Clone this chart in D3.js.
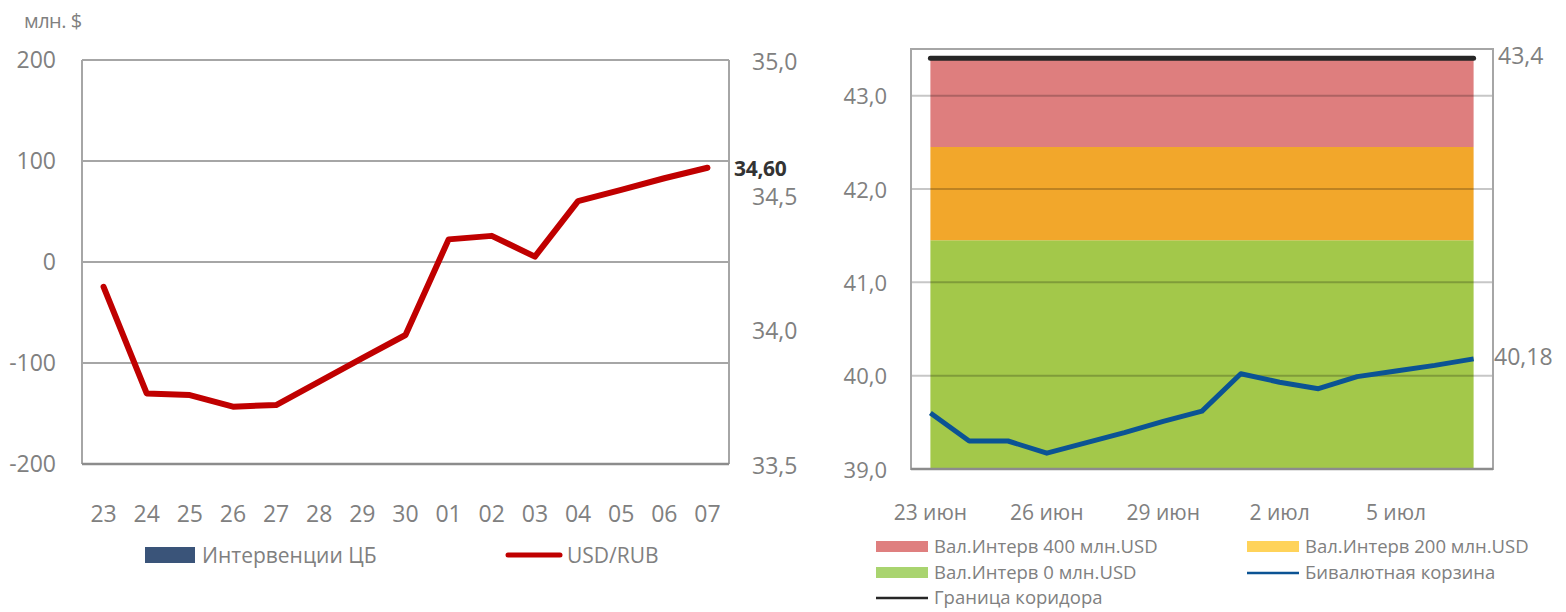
<!DOCTYPE html>
<html>
<head>
<meta charset="utf-8">
<script src="https://cdn.jsdelivr.net/npm/d3@7"></script>
<style>
  html, body { margin: 0; padding: 0; background: #fff; }
  svg { display: block; }
</style>
</head>
<body>
<svg id="chart" width="1566" height="612"></svg>
<script>
// Font close to the Calibri look of the original
const fontFamily = "'Open Sans', 'DejaVu Sans', sans-serif";
const grey = "#808080";

// ---- Left chart data ----
const days = ["23", "24", "25", "26", "27", "28", "29", "30", "01", "02", "03", "04", "05", "06", "07"];
const interventions = [0, 0, 0, 0, 0, 0, 0, 0, 0, 0, 0, 0, 0, 0, 0];
const usdRub = [34.158, 33.762, 33.756, 33.713, 33.719, 33.806, 33.893, 33.979, 34.334, 34.347, 34.270, 34.476, 34.518, 34.561, 34.60];
const leftTicks = [-200, -100, 0, 100, 200];
const rightTicks = [33.5, 34.0, 34.5, 35.0];

// ---- Right chart data ----
const basketDates = ["2014-06-23", "2014-06-24", "2014-06-25", "2014-06-26", "2014-06-27", "2014-06-28", "2014-06-29",
  "2014-06-30", "2014-07-01", "2014-07-02", "2014-07-03", "2014-07-04", "2014-07-05", "2014-07-06", "2014-07-07"];
const basket = [39.60, 39.30, 39.30, 39.17, 39.28, 39.39, 39.51, 39.62, 40.02, 39.93, 39.86, 39.99, 40.05, 40.11, 40.18];
const band0 = [41.45, 41.45, 41.45, 41.45, 41.45, 41.45, 41.45, 41.45, 41.45, 41.45, 41.45, 41.45, 41.45, 41.45, 41.45];
const band200 = [42.45, 42.45, 42.45, 42.45, 42.45, 42.45, 42.45, 42.45, 42.45, 42.45, 42.45, 42.45, 42.45, 42.45, 42.45];
const band400 = [43.4, 43.4, 43.4, 43.4, 43.4, 43.4, 43.4, 43.4, 43.4, 43.4, 43.4, 43.4, 43.4, 43.4, 43.4];
const corridor = [43.4, 43.4, 43.4, 43.4, 43.4, 43.4, 43.4, 43.4, 43.4, 43.4, 43.4, 43.4, 43.4, 43.4, 43.4];
const basketTicks = [39, 40, 41, 42, 43];
const dateTicks = ["2014-06-23", "2014-06-26", "2014-06-29", "2014-07-02", "2014-07-05"];
const dateTickLabels = ["23 июн", "26 июн", "29 июн", "2 июл", "5 июл"];

const svg = d3.select("#chart");
const comma = d => d3.format(".1f")(d).replace(".", ",");

// =================== LEFT CHART ===================
const L = { left: 82, right: 729, top: 60, bottom: 464 };
const xL = d3.scaleBand().domain(days).range([L.left, L.right]);
const yL = d3.scaleLinear().domain([-200, 200]).range([L.bottom, L.top]);
const yR = d3.scaleLinear().domain([33.5, 35.0]).range([L.bottom, L.top]);

const gL = svg.append("g");

// gridlines
gL.selectAll("line.grid")
  .data(leftTicks)
  .enter()
  .append("line")
  .attr("x1", L.left).attr("x2", L.right)
  .attr("y1", d => yL(d)).attr("y2", d => yL(d))
  .attr("stroke", "#a6a6a6")
  .attr("stroke-width", 2);

// frame sides
gL.append("line")
  .attr("x1", L.left).attr("x2", L.left).attr("y1", L.top).attr("y2", L.bottom)
  .attr("stroke", "#a6a6a6").attr("stroke-width", 2);
gL.append("line")
  .attr("x1", L.right).attr("x2", L.right).attr("y1", L.top).attr("y2", L.bottom)
  .attr("stroke", "#a6a6a6").attr("stroke-width", 2);
gL.append("line")
  .attr("x1", L.left).attr("x2", L.right).attr("y1", L.bottom).attr("y2", L.bottom)
  .attr("stroke", "#8c8c8c").attr("stroke-width", 2.5);

// bars (interventions, all zero here)
gL.selectAll("rect.bar")
  .data(interventions)
  .enter()
  .append("rect")
  .attr("class", "bar")
  .attr("x", (d, i) => xL(days[i]) + xL.bandwidth() * 0.2)
  .attr("width", xL.bandwidth() * 0.6)
  .attr("y", d => yL(Math.max(0, d)))
  .attr("height", d => Math.abs(yL(d) - yL(0)))
  .attr("fill", "#3a5479");

// left axis labels
gL.selectAll("text.yl")
  .data(leftTicks)
  .enter()
  .append("text")
  .attr("x", 56)
  .attr("y", d => yL(d))
  .attr("dy", "0.35em")
  .attr("text-anchor", "end")
  .attr("font-family", fontFamily)
  .attr("font-size", "23px")
  .attr("fill", grey)
  .text(d => d);

// right axis labels
gL.selectAll("text.yr")
  .data(rightTicks)
  .enter()
  .append("text")
  .attr("x", 752)
  .attr("y", d => yR(d) + 2)
  .attr("dy", "0.35em")
  .attr("font-family", fontFamily)
  .attr("font-size", "23px")
  .attr("fill", grey)
  .text(d => comma(d));

// x labels
gL.selectAll("text.xl")
  .data(days)
  .enter()
  .append("text")
  .attr("x", d => xL(d) + xL.bandwidth() / 2)
  .attr("y", 514)
  .attr("dy", "0.35em")
  .attr("text-anchor", "middle")
  .attr("font-family", fontFamily)
  .attr("font-size", "23px")
  .attr("fill", grey)
  .text(d => d);

// USD/RUB line
const lineL = d3.line()
  .x((d, i) => xL(days[i]) + xL.bandwidth() / 2)
  .y(d => yR(d));
gL.append("path")
  .datum(usdRub)
  .attr("d", lineL)
  .attr("fill", "none")
  .attr("stroke", "#c00000")
  .attr("stroke-width", 6)
  .attr("stroke-linecap", "round")
  .attr("stroke-linejoin", "round");

// last value label
gL.append("text")
  .attr("x", 734)
  .attr("y", yR(usdRub[usdRub.length - 1]) + 1)
  .attr("dy", "0.35em")
  .attr("font-family", fontFamily)
  .attr("font-size", "21px")
  .attr("font-weight", "700")
  .attr("letter-spacing", "-0.3px")
  .attr("fill", "#333")
  .text(d3.format(".2f")(usdRub[usdRub.length - 1]).replace(".", ","));

// unit label
gL.append("text")
  .attr("x", 24)
  .attr("y", 21)
  .attr("dy", "0.35em")
  .attr("font-family", fontFamily)
  .attr("font-size", "20px")
  .attr("letter-spacing", "-0.5px")
  .attr("fill", grey)
  .text("млн. $");

// legend
gL.append("rect")
  .attr("x", 145).attr("y", 547).attr("width", 50).attr("height", 16)
  .attr("fill", "#3a5479");
gL.append("text")
  .attr("x", 202).attr("y", 556).attr("dy", "0.35em")
  .attr("font-family", fontFamily).attr("font-size", "21px").attr("fill", grey)
  .text("Интервенции ЦБ");
gL.append("line")
  .attr("x1", 508).attr("x2", 560).attr("y1", 555).attr("y2", 555)
  .attr("stroke", "#c00000").attr("stroke-width", 5).attr("stroke-linecap", "round");
gL.append("text")
  .attr("x", 567).attr("y", 556).attr("dy", "0.35em")
  .attr("font-family", fontFamily).attr("font-size", "21px").attr("fill", grey)
  .text("USD/RUB");

// =================== RIGHT CHART ===================
const R = { left: 911, right: 1493, top: 49, bottom: 469 };
const parse = d3.utcParse("%Y-%m-%d");
const dates = basketDates.map(parse);
const xR = d3.scaleUtc()
  .domain([d3.utcHour.offset(dates[0], -12), d3.utcHour.offset(dates[dates.length - 1], 12)])
  .range([R.left, R.right]);
const yB = d3.scaleLinear().domain([39, 43.5]).range([R.bottom, R.top]);

const gR = svg.append("g");

// stacked bands
const area = (lo, hi) => d3.area()
  .x((d, i) => xR(dates[i]))
  .y0((d, i) => yB(lo ? lo[i] : 39))
  .y1((d, i) => yB(hi[i]));

gR.append("path").datum(band0).attr("d", area(null, band0)).attr("fill", "#a3c84a");
gR.append("path").datum(band200).attr("d", area(band0, band200)).attr("fill", "#f2a72b");
gR.append("path").datum(band400).attr("d", area(band200, band400)).attr("fill", "#de7e7e");

// gridlines (semi-transparent so they show through the bands)
gR.selectAll("line.grid")
  .data(basketTicks.filter(d => d > 39))
  .enter()
  .append("line")
  .attr("x1", R.left).attr("x2", R.right)
  .attr("y1", d => yB(d)).attr("y2", d => yB(d))
  .attr("stroke", "#000")
  .attr("stroke-opacity", 0.22)
  .attr("stroke-width", 2);

// frame
gR.append("rect")
  .attr("x", R.left).attr("y", R.top)
  .attr("width", R.right - R.left).attr("height", R.bottom - R.top)
  .attr("fill", "none")
  .attr("stroke", "#a6a6a6")
  .attr("stroke-width", 2);
gR.append("line")
  .attr("x1", R.left).attr("x2", R.right).attr("y1", R.bottom).attr("y2", R.bottom)
  .attr("stroke", "#8c8c8c").attr("stroke-width", 2.5);

// y labels
gR.selectAll("text.yl")
  .data(basketTicks)
  .enter()
  .append("text")
  .attr("x", 887)
  .attr("y", d => yB(d) + 1)
  .attr("dy", "0.35em")
  .attr("text-anchor", "end")
  .attr("font-family", fontFamily)
  .attr("font-size", "22px")
  .attr("fill", grey)
  .text(d => comma(d));

// x labels
gR.selectAll("text.xl")
  .data(dateTicks)
  .enter()
  .append("text")
  .attr("x", d => xR(parse(d)))
  .attr("y", 513)
  .attr("dy", "0.35em")
  .attr("text-anchor", "middle")
  .attr("font-family", fontFamily)
  .attr("font-size", "21px")
  .attr("fill", grey)
  .text((d, i) => dateTickLabels[i]);

// basket line
const lineR = d3.line()
  .x((d, i) => xR(dates[i]))
  .y(d => yB(d));
gR.append("path")
  .datum(basket)
  .attr("d", lineR)
  .attr("fill", "none")
  .attr("stroke", "#0b5394")
  .attr("stroke-width", 5)
  .attr("stroke-linejoin", "round");

// corridor line
gR.append("path")
  .datum(corridor)
  .attr("d", lineR)
  .attr("fill", "none")
  .attr("stroke", "#262626")
  .attr("stroke-width", 5)
  .attr("stroke-linecap", "round");

// end labels
gR.append("text")
  .attr("x", 1498)
  .attr("y", yB(corridor[corridor.length - 1]) - 2)
  .attr("dy", "0.35em")
  .attr("font-family", fontFamily)
  .attr("font-size", "23px")
  .attr("fill", grey)
  .text(d3.format(".1f")(corridor[corridor.length - 1]).replace(".", ","));
gR.append("text")
  .attr("x", 1494)
  .attr("y", yB(basket[basket.length - 1]) - 2)
  .attr("dy", "0.35em")
  .attr("font-family", fontFamily)
  .attr("font-size", "23px")
  .attr("fill", grey)
  .text(d3.format(".2f")(basket[basket.length - 1]).replace(".", ","));

// legend
const legendItems = [
  { label: "Вал.Интерв 400 млн.USD", type: "rect", color: "#df7f7f", x: 876, y: 547 },
  { label: "Вал.Интерв 200 млн.USD", type: "rect", color: "#ffd35a", x: 1247, y: 547 },
  { label: "Вал.Интерв 0 млн.USD", type: "rect", color: "#a9d46f", x: 876, y: 573 },
  { label: "Бивалютная корзина", type: "line", color: "#0b5394", x: 1247, y: 573 },
  { label: "Граница коридора", type: "line", color: "#262626", x: 876, y: 598 }
];
const lg = gR.selectAll("g.leg")
  .data(legendItems)
  .enter()
  .append("g")
  .attr("transform", d => `translate(${d.x},${d.y})`);
lg.filter(d => d.type === "rect")
  .append("rect")
  .attr("x", 0).attr("y", -6).attr("width", 52).attr("height", 11)
  .attr("fill", d => d.color);
lg.filter(d => d.type === "line")
  .append("line")
  .attr("x1", 0).attr("x2", 52).attr("y1", 0).attr("y2", 0)
  .attr("stroke", d => d.color).attr("stroke-width", 2.5);
lg.append("text")
  .attr("x", 58)
  .attr("y", 0)
  .attr("dy", "0.35em")
  .attr("font-family", fontFamily)
  .attr("font-size", "18.5px")
  .attr("fill", grey)
  .text(d => d.label);
</script>
</body>
</html>
